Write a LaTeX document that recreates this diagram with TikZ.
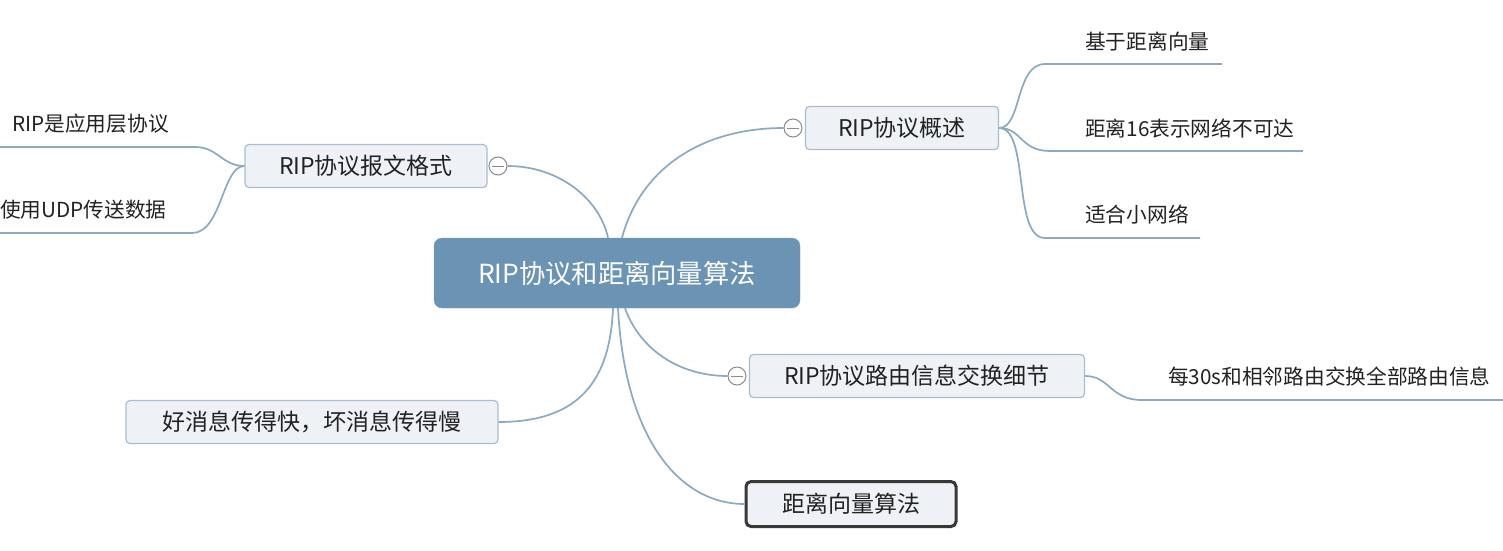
\documentclass[tikz,border=0pt]{standalone}
\usepackage{fontspec}
\setmainfont{Noto Sans CJK SC}
\usepackage{tikz}
\usepackage{xcolor}

\definecolor{rootfill}{HTML}{6B93B3}
\definecolor{rootline}{HTML}{7FA2BE}
\definecolor{boxfill}{HTML}{EEF2F6}
\definecolor{boxline}{HTML}{A7BED2}
\definecolor{branch}{HTML}{8DA9C0}
\definecolor{inkgray}{HTML}{222222}
\definecolor{knob}{HTML}{8A8A8A}

\tikzset{
  rootbox/.style={draw=rootline,fill=rootfill,rounded corners=8pt,text=white,
    minimum width=366pt,minimum height=70pt,font=\fontsize{26.3}{30}\selectfont},
  topicbox/.style={draw=boxline,fill=boxfill,rounded corners=4pt,text=inkgray,
    minimum height=43pt,font=\fontsize{23}{26}\selectfont,line width=1.2pt},
  leaf/.style={text=inkgray,inner sep=0pt,font=\fontsize{20.7}{24}\selectfont},
  fold/.style={circle,draw=knob,fill=white,minimum size=18pt,inner sep=0pt,
    line width=1pt,path picture={\draw[knob,line width=1pt]
      ([xshift=-6pt]path picture bounding box.center) -- ([xshift=6pt]path picture bounding box.center);}},
  twig/.style={draw=branch,line width=1.7pt}
}

\begin{document}
\begin{tikzpicture}[x=1pt,y=-1pt]
        \useasboundingbox[fill=white] (0,0) rectangle (1503,550);

        % central topic
        \node[rootbox] (root) at (617,273) {RIP协议和距离向量算法};

        % main topics
        \node[topicbox,minimum width=242pt] (fmt) at (366,166) {RIP协议报文格式};
        \node[fold] (fmtk) at (498,166) {};
        \node[topicbox,minimum width=193pt] (ovw) at (902,128) {RIP协议概述};
        \node[fold] (ovwk) at (793,128) {};
        \node[topicbox,minimum width=335pt] (xchg) at (917,376) {RIP协议路由信息交换细节};
        \node[fold] (xchgk) at (737,376) {};
        \node[topicbox,minimum width=372pt] (news) at (312,422) {好消息传得快，坏消息传得慢};
        \node[topicbox,minimum width=210pt,minimum height=45pt,draw=inkgray!90,line width=3pt,
          rounded corners=5pt] (dv) at (851,504) {距离向量算法};

        % branches from the centre
        \draw[twig] ([xshift=-9pt]root.north) .. controls (600,200) and (560,166) .. (fmtk.east);
        \draw[twig] ([xshift=5pt]root.north) .. controls (640,170) and (700,128) .. (ovwk.west);
        \draw[twig] ([xshift=8pt]root.south) .. controls (640,350) and (680,376) .. (xchgk.west);
        \draw[twig] ([xshift=-4pt]root.south) .. controls (610,380) and (580,422) .. (news.east);
        \draw[twig] ([xshift=1pt]root.south) .. controls (625,440) and (680,504) .. (dv.west);

        % leaves of the message format
        \node[leaf,anchor=west] (app) at (12,124) {RIP是应用层协议};
        \node[leaf,anchor=west] (udp) at (0,210) {使用UDP传送数据};
        \coordinate (append) at (0,147);
        \coordinate (udpend) at (0,233);
        \draw[twig] (fmt.west) .. controls (222,166) and (218,147) .. (195,147) -- (append);
        \draw[twig] (fmt.west) .. controls (222,166) and (222,233) .. (192,233) -- (udpend);

        % leaves of the overview
        \node[leaf,anchor=west] (base) at (1085,42) {基于距离向量};
        \node[leaf,anchor=west] (inf) at (1085,128) {距离16表示网络不可达};
        \node[leaf,anchor=west] (small) at (1085,215) {适合小网络};
        \coordinate (baseend) at (1222,64);
        \coordinate (infend) at (1303,151);
        \coordinate (smallend) at (1200,238);
        \draw[twig] (ovw.east) .. controls (1022,128) and (1015,64) .. (1045,64) -- (baseend);
        \draw[twig] (ovw.east) .. controls (1022,128) and (1020,151) .. (1050,151) -- (infend);
        \draw[twig] (ovw.east) .. controls (1030,128) and (1012,238) .. (1045,238) -- (smallend);

        % leaf of the exchange details
        \node[leaf,anchor=west] (every) at (1168,377) {每30s和相邻路由交换全部路由信息};
        \coordinate (everyend) at (1503,400);
        \draw[twig] (xchg.east) .. controls (1110,376) and (1110,400) .. (1142,400) -- (everyend);
    \end{tikzpicture}
\end{document}
